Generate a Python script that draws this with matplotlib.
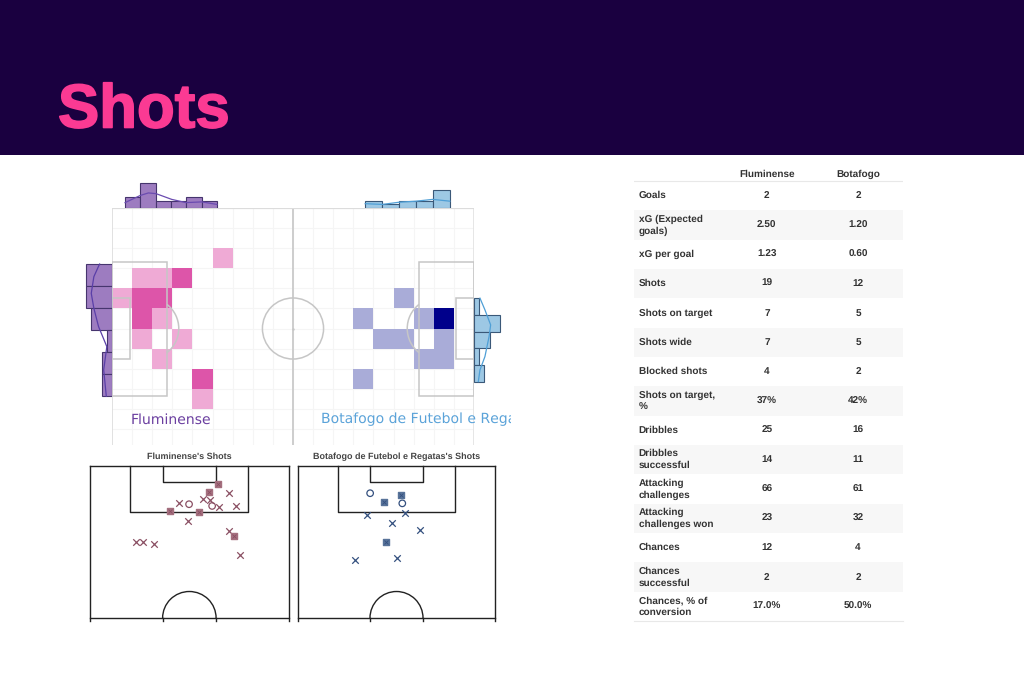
import numpy as np
import matplotlib
matplotlib.use('Agg')
import matplotlib.pyplot as plt
import matplotlib.patheffects as pe
from matplotlib.colors import ListedColormap, BoundaryNorm
from matplotlib.patches import Arc, Circle, Rectangle

plt.rcParams['text.hinting'] = 'no_hinting'
plt.rcParams['text.hinting_factor'] = 1

W, H = 1024, 683

# heatmap cells on the 18 x 12 pitch grid
flu_cols = [5, 1, 2, 3, 0, 1, 2, 1, 2, 1, 3, 2, 4, 4]
flu_rows = [2, 3, 3, 3, 4, 4, 4, 5, 5, 6, 6, 7, 8, 9]
flu_counts = [1, 1, 1, 2, 1, 2, 2, 2, 1, 1, 1, 1, 2, 1]
bot_cols = [14, 12, 15, 16, 13, 14, 16, 15, 16, 12]
bot_rows = [4, 5, 5, 5, 6, 6, 6, 7, 7, 8]
bot_counts = [1, 1, 1, 3, 1, 1, 1, 1, 1, 1]

# marginal histograms
flu_top = [3, 7, 2, 2, 3, 2]
flu_side = [5, 5, 4, 1, 2, 2]
bot_top = [2, 1, 2, 2, 5]
bot_side = [1, 5, 3, 1, 2]

# marginal density curves
flu_top_x = [0.65, 1.41, 1.81, 2.19, 2.97, 3.68, 4.46, 5.22]
flu_top_y = [1.5, 3.5, 4.2, 4.0, 2.4, 1.5, 1.7, 1.0]
flu_side_r = [2.79, 3.42, 4.25, 4.99, 5.9, 6.9, 8.06, 9.37]
flu_side_c = [2.4, 3.5, 4.0, 3.5, 2.6, 1.0, 1.6, 1.1]
bot_top_x = [12.59, 13.45, 14.26, 15.11, 15.95, 16.8]
bot_top_y = [1.2, 1.0, 1.6, 1.9, 2.4, 1.9]
bot_side_r = [4.49, 5.07, 5.82, 6.4, 7.4, 8.06, 8.64]
bot_side_c = [1.15, 2.1, 3.2, 2.9, 2.1, 1.15, 0.83]

# shot locations, metres across / metres from goal line
flu_miss_x = [47.5, 38.7, 41.2, 44.0, 49.9, 30.5, 33.5, 47.5, 51.3, 15.6, 18.3, 21.8]
flu_miss_y = [9.3, 11.3, 11.6, 14.2, 13.9, 12.9, 19.1, 22.5, 30.9, 26.1, 26.2, 26.9]
flu_block_x = [33.9, 41.8]
flu_block_y = [13.2, 13.8]
flu_target_x = [43.8, 40.6, 27.5, 37.2, 49.3]
flu_target_y = [6.3, 9.1, 15.4, 15.8, 24.1]
bot_miss_x = [23.9, 36.9, 32.3, 42.1, 19.6, 34.0]
bot_miss_y = [17.0, 16.2, 19.7, 22.2, 32.3, 31.7]
bot_block_x = [24.9, 36.0]
bot_block_y = [9.4, 12.9]
bot_target_x = [35.6, 29.8, 30.5]
bot_target_y = [10.0, 12.4, 26.1]

# stats table
stat_names = ['Goals', 'xG (Expected\ngoals)', 'xG per goal', 'Shots', 'Shots on target',
              'Shots wide', 'Blocked shots', 'Shots on target,\n%', 'Dribbles',
              'Dribbles\nsuccessful', 'Attacking\nchallenges', 'Attacking\nchallenges won',
              'Chances', 'Chances\nsuccessful', 'Chances, % of\nconversion']
flu_stats = ['2', '2.50', '1.23', '19', '7', '7', '4', '37%', '25', '14', '66', '23', '12', '2', '17.0%']
bot_stats = ['2', '1.20', '0.60', '12', '5', '5', '2', '42%', '16', '11', '61', '32', '4', '2', '50.0%']

fig = plt.figure(figsize=(W / 100, H / 100), dpi=100, facecolor='white')


def px_axes(left, top, right, bottom, z=1):
    ax = fig.add_axes([left / W, 1 - bottom / H, (right - left) / W, (bottom - top) / H], zorder=z)
    ax.axis('off')
    return ax


# top band
band = px_axes(0, 0, W, 155)
band.set_facecolor('#1a0040')
band.axis('on')
band.set_xticks([])
band.set_yticks([])
for s in band.spines.values():
    s.set_visible(False)
band.set_xlim(0, W)
band.set_ylim(155, 0)
band.text(58, 127.5, 'Shots', color='#fb3a93', fontsize=44.5, fontweight='bold',
          family='Liberation Sans', va='baseline',
          path_effects=[pe.withStroke(linewidth=1.2, foreground='#fb3a93')])

# heatmap pitch
ax = px_axes(112, 208, 474, 445)
ax.set_xlim(0, 18)
ax.set_ylim(11.8, 0)


def heat(cols, rows, counts, colours):
    grid = np.zeros((12, 18))
    grid[rows, cols] = counts
    grid = np.ma.masked_equal(grid, 0)
    cmap = ListedColormap(colours)
    norm = BoundaryNorm(np.arange(0.5, len(colours) + 1), len(colours))
    ax.pcolormesh(np.arange(19), np.arange(13), grid, cmap=cmap, norm=norm, zorder=2)


heat(flu_cols, flu_rows, flu_counts, ['#efaad5', '#dd55a9'])
heat(bot_cols, bot_rows, bot_counts, ['#a9acd8', '#8a8cc8', '#00008b'])

for i in range(1, 18):
    ax.axvline(i, color='#f5f5f5', lw=0.8, zorder=1)
for i in range(1, 12):
    ax.axhline(i, color='#f5f5f5', lw=0.8, zorder=1)

line = '#c6c6c6'
ax.axvline(9, color='#cdcdcd', lw=1.4, zorder=3)
ax.axvline(0, color='#dcdcdc', lw=1.2, zorder=3)
ax.axvline(18, color='#e2e2e2', lw=1.2, zorder=3)
ax.axhline(0, color='#dcdcdc', lw=1.6, zorder=3)
ax.add_patch(Circle((9, 6), 1.52, fill=False, ec=line, lw=1.1, zorder=3))
ax.plot(9, 6, '.', ms=1.5, color=line, zorder=3)
ax.add_patch(Rectangle((0, 2.68), 2.74, 6.66, fill=False, ec=line, lw=1.1, zorder=3))
ax.add_patch(Rectangle((0, 4.47), 0.9, 3.04, fill=False, ec=line, lw=1.1, zorder=3))
ax.add_patch(Rectangle((15.26, 2.68), 2.74, 6.66, fill=False, ec=line, lw=1.1, zorder=3))
ax.add_patch(Rectangle((17.1, 4.47), 0.9, 3.04, fill=False, ec=line, lw=1.1, zorder=3))
ax.add_patch(Arc((1.8, 6), 3.04, 3.04, theta1=-52, theta2=52, ec=line, lw=1.1, zorder=3))
ax.add_patch(Arc((16.2, 6), 3.04, 3.04, theta1=128, theta2=232, ec=line, lw=1.1, zorder=3))

# marginals
flu_fill, flu_edge = '#9d7cc0', '#46356e'
bot_fill, bot_edge = '#9dc8e4', '#3a5878'

top = px_axes(112, 180, 474, 208, 2)
top.set_xlim(0, 18)
top.set_ylim(0, 7.8)
e = np.linspace(0.65, 5.22, len(flu_top) + 1)
top.bar(e[:-1], flu_top, width=np.diff(e), align='edge', color=flu_fill, edgecolor=flu_edge, lw=0.8)
top.plot(flu_top_x, flu_top_y, color='#6a4bb0', lw=0.9)
e = np.linspace(12.59, 16.8, len(bot_top) + 1)
top.bar(e[:-1], bot_top, width=np.diff(e), align='edge', color=bot_fill, edgecolor=bot_edge, lw=0.8)
top.plot(bot_top_x, bot_top_y, color='#4f9fd6', lw=0.9)

left = px_axes(84, 208, 112, 445, 2)
left.set_xlim(5.4, 0)
left.set_ylim(11.8, 0)
e = np.linspace(2.79, 9.37, len(flu_side) + 1)
left.barh(e[:-1], flu_side, height=np.diff(e), align='edge', color=flu_fill, edgecolor=flu_edge, lw=0.8)
left.plot(flu_side_c, flu_side_r, color='#5a3fa8', lw=0.9)

right = px_axes(474, 208, 504, 445, 2)
right.set_xlim(0, 5.77)
right.set_ylim(11.8, 0)
e = np.linspace(4.49, 8.64, len(bot_side) + 1)
right.barh(e[:-1], bot_side, height=np.diff(e), align='edge', color=bot_fill, edgecolor=bot_edge, lw=0.8)
right.plot(bot_side_c, bot_side_r, color='#4f9fd6', lw=0.9)

# team names over the heatmap, the long one is cut off at the image edge
names = px_axes(0, 0, 511, H, 3)
names.set_xlim(0, 511)
names.set_ylim(H, 0)
names.text(131, 423.5, 'Fluminense', color='#6b3fa0', fontsize=10.2, va='baseline', clip_on=True)
names.text(321, 423.5, 'Botafogo de Futebol e Regatas', color='#5ba3d9', fontsize=10.2, va='baseline', clip_on=True)


# shot maps
def shot_map(left_px, right_px, title, miss_x, miss_y, block_x, block_y, target_x, target_y, col, fill):
    a = px_axes(left_px, 466, right_px, 618, 2)
    a.set_xlim(0, 68)
    a.set_ylim(52.5, 0)
    c = '#222222'
    kw = dict(color=c, lw=1.0, clip_on=False)
    a.plot([0, 0], [53.5, 0], **kw)
    a.plot([0, 68], [0, 0], **kw)
    a.plot([68, 68], [0, 53.5], **kw)
    a.plot([0, 68], [52.5, 52.5], **kw)
    a.plot([13.84, 13.84, 54.16, 54.16], [0, 16, 16, 0], **kw)
    a.plot([24.84, 24.84, 43.16, 43.16], [0, 5.5, 5.5, 0], **kw)
    a.add_patch(Arc((34, 52.5), 18.3, 18.3, theta1=180, theta2=360, ec=c, lw=1.0, clip_on=False))
    a.plot([24.85, 24.85], [52.5, 53.5], **kw)
    a.plot([43.15, 43.15], [52.5, 53.5], **kw)
    a.scatter(miss_x, miss_y, marker='x', s=22, color=col, lw=0.9, zorder=3)
    a.scatter(block_x, block_y, marker='o', s=22, facecolor='none', edgecolor=col, lw=0.9, zorder=3)
    a.scatter(target_x, target_y, marker='s', s=18, color=fill, zorder=3)
    a.scatter(target_x, target_y, marker='x', s=8, color=col, lw=0.6, zorder=4)
    a.text(34, -1.7, title, ha='center', va='bottom', fontsize=6.6, fontweight='bold',
           family='Liberation Sans', color='#444444')


shot_map(90, 288.7, "Fluminense's Shots", flu_miss_x, flu_miss_y, flu_block_x, flu_block_y,
         flu_target_x, flu_target_y, '#8a4f63', '#a5707f')
shot_map(298, 495, "Botafogo de Futebol e Regatas's Shots", bot_miss_x, bot_miss_y, bot_block_x, bot_block_y,
         bot_target_x, bot_target_y, '#34507f', '#587399')

# table
tab = px_axes(634, 167, 903, 621)
tab.set_xlim(0, 1)
tab.set_ylim(15, -0.477)
tab.plot([0, 1], [0, 0], color='#e8e8e8', lw=0.8)
tab.plot([0, 1], [15, 15], color='#e8e8e8', lw=0.8, clip_on=False)
txt = dict(fontsize=7.1, fontweight='bold', family='Liberation Sans', color='#333333', va='center')
tab.text(0.494, -0.23, 'Fluminense', ha='center', **txt)
tab.text(0.833, -0.23, 'Botafogo', ha='center', **txt)
for i, name in enumerate(stat_names):
    if i % 2 == 1:
        tab.axhspan(i, i + 1, color='#f7f7f7', lw=0, zorder=0)
    tab.text(0.017, i + 0.5, name, ha='left', linespacing=1.35, **txt)
    tab.text(0.494, i + 0.5, flu_stats[i], ha='center', **txt)
    tab.text(0.833, i + 0.5, bot_stats[i], ha='center', **txt)

fig.savefig('out.png', dpi=100, facecolor='white')
